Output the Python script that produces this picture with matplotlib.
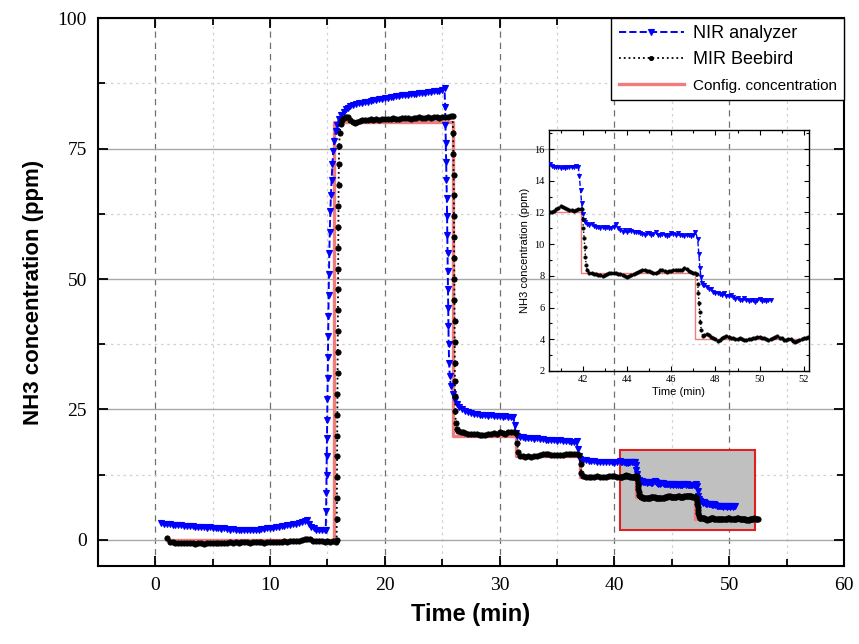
import matplotlib
matplotlib.use("Agg")
import matplotlib.pyplot as plt
from matplotlib.patches import Rectangle
from matplotlib.ticker import MultipleLocator

# NIR analyzer (blue) - time (min) / NH3 (ppm)
nir_t = [0.5, 0.75, 1.0, 1.25, 1.5, 1.75, 2.0, 2.25, 2.5, 2.75, 3.0, 3.25, 3.5, 3.75, 4.0, 4.25, 4.5, 4.75,
         5.0, 5.25, 5.5, 5.75, 6.0, 6.25, 6.5, 6.75, 7.0, 7.25, 7.5, 7.75, 8.0, 8.25, 8.5, 8.75, 9.0, 9.25,
         9.5, 9.75, 10.0, 10.25, 10.5, 10.75, 11.0, 11.25, 11.5, 11.75, 12.0, 12.25, 12.5, 12.75, 13.0, 13.2,
         13.4, 13.6, 13.8, 14.0, 14.25, 14.5, 14.75, 14.85,
         14.88, 14.9, 14.92, 14.94, 14.96, 14.98, 15.0, 15.02, 15.04, 15.06, 15.08, 15.1, 15.13, 15.16, 15.2,
         15.25, 15.3, 15.36, 15.43, 15.5, 15.6, 15.72, 15.85, 16.0, 16.2, 16.4, 16.6, 16.8, 17.0, 17.25, 17.5,
         17.75, 18.0, 18.25, 18.5, 18.75, 19.0, 19.25, 19.5, 19.75, 20.0, 20.25, 20.5, 20.75, 21.0, 21.25, 21.5,
         21.75, 22.0, 22.25, 22.5, 22.75, 23.0, 23.25, 23.5, 23.75, 24.0, 24.25, 24.5, 24.75, 25.0, 25.2,
         25.25, 25.28, 25.31, 25.34, 25.37, 25.4, 25.42, 25.44, 25.46, 25.48, 25.5, 25.52, 25.54, 25.56, 25.6,
         25.65, 25.75, 25.9, 26.1, 26.3, 26.5, 26.75, 27.0, 27.25, 27.5, 27.75, 28.0, 28.25, 28.5, 28.75, 29.0,
         29.25, 29.5, 29.75, 30.0, 30.25, 30.5, 30.75, 31.0, 31.2, 31.3, 31.4, 31.5, 31.75, 32.0, 32.25, 32.5,
         32.75, 33.0, 33.25, 33.5, 33.75, 34.0, 34.25, 34.5, 34.75, 35.0, 35.25, 35.5, 35.75, 36.0, 36.25, 36.5,
         36.7, 36.8, 36.9, 37.0, 37.25, 37.5, 37.75, 38.0, 38.25, 38.5, 38.75, 39.0, 39.25, 39.5, 39.75, 40.0,
         40.25, 40.5, 40.6, 40.7, 40.8, 40.9, 41.0, 41.1, 41.2, 41.3, 41.4, 41.5, 41.6, 41.7, 41.8, 41.85,
         41.9, 41.95, 42.0, 42.05, 42.1, 42.2, 42.3, 42.4, 42.5, 42.6, 42.7, 42.8, 42.9, 43.0, 43.1, 43.2,
         43.3, 43.4, 43.5, 43.6, 43.7, 43.8, 43.9, 44.0, 44.1, 44.2, 44.3, 44.4, 44.5, 44.6, 44.7, 44.8,
         44.9, 45.0, 45.1, 45.2, 45.3, 45.4, 45.5, 45.6, 45.7, 45.8, 45.9, 46.0, 46.1, 46.2, 46.3, 46.4,
         46.5, 46.6, 46.7, 46.8, 46.9, 47.0, 47.1, 47.2, 47.25, 47.3, 47.35, 47.4, 47.45, 47.5, 47.6, 47.7,
         47.8, 47.9, 48.0, 48.1, 48.2, 48.3, 48.4, 48.5, 48.6, 48.7, 48.8, 48.9, 49.0, 49.1, 49.2, 49.3,
         49.4, 49.5, 49.6, 49.7, 49.8, 49.9, 50.0, 50.1, 50.2, 50.3, 50.4, 50.5]
nir_v = [3.2, 3.1, 3.1, 3.0, 2.9, 2.9, 2.8, 2.8, 2.7, 2.6, 2.7, 2.6, 2.5, 2.5, 2.4, 2.4, 2.3, 2.4,
         2.3, 2.2, 2.2, 2.1, 2.2, 2.1, 2.0, 2.1, 2.0, 1.9, 2.0, 1.9, 2.0, 2.0, 1.9, 2.0, 2.0, 2.1,
         2.1, 2.2, 2.3, 2.3, 2.4, 2.5, 2.6, 2.7, 2.8, 2.9, 3.0, 3.1, 3.3, 3.5, 3.7, 3.8,
         3.0, 2.5, 2.2, 2.0, 1.9, 2.0, 1.9, 2.0,
         5.5, 9.0, 12.5, 16.0, 19.5, 23.0, 27.0, 31.0, 35.0, 39.0, 43.0, 47.0, 51.0, 55.0, 59.0,
         63.0, 66.0, 69.0, 72.0, 74.5, 76.5, 78.3, 79.6, 80.6, 81.4, 82.0, 82.5, 82.8, 83.1, 83.3, 83.5,
         83.7, 83.8, 83.9, 84.0, 84.1, 84.2, 84.3, 84.4, 84.5, 84.6, 84.7, 84.8, 84.9, 85.0, 85.0, 85.2,
         85.2, 85.3, 85.4, 85.5, 85.5, 85.6, 85.7, 85.7, 85.9, 85.9, 86.0, 86.1, 86.1, 86.2, 86.5,
         83.0, 79.5, 76.0, 72.5, 69.0, 65.5, 62.0, 58.5, 55.0, 51.5, 48.0, 44.5, 41.0, 37.5, 34.0,
         31.5, 29.5, 28.0, 26.8, 26.0, 25.4, 25.0, 24.7, 24.5, 24.3, 24.2, 24.1, 24.0, 24.0, 23.9, 23.8,
         23.9, 23.7, 23.8, 23.7, 23.6, 23.7, 23.6, 23.5, 23.6, 22.0, 20.5, 20.0, 19.8, 19.7, 19.6, 19.6,
         19.5, 19.4, 19.5, 19.3, 19.3, 19.2, 19.2, 19.1, 19.1, 19.0, 19.1, 18.9, 18.9, 18.9, 18.8, 18.8,
         18.9, 17.5, 16.0, 15.6, 15.4, 15.3, 15.2, 15.1, 15.1, 15.0, 15.0, 14.9, 15.0, 14.9, 14.9, 14.8,
         14.9, 15.05, 14.95, 14.9, 14.85, 14.85, 14.8, 14.85, 14.8, 14.85, 14.9, 14.85, 14.9, 14.95, 14.85, 14.3,
         13.4, 12.6, 11.9, 11.5, 11.4, 11.3, 11.2, 11.25, 11.15, 11.1, 11.1, 11.0, 11.1, 11.05, 11.1, 11.0,
         11.0, 11.1, 11.25, 11.05, 10.9, 10.8, 10.9, 10.8, 10.9, 10.85, 10.8, 10.75, 10.8, 10.7, 10.65, 10.6,
         10.7, 10.7, 10.6, 10.65, 10.75, 10.6, 10.55, 10.65, 10.6, 10.5, 10.6, 10.7, 10.65, 10.6, 10.7, 10.55,
         10.6, 10.5, 10.6, 10.55, 10.5, 10.6, 10.8, 10.3, 9.4, 8.5, 7.9, 7.55, 7.45, 7.4, 7.3, 7.15,
         7.2, 7.0, 6.95, 6.9, 6.85, 6.8, 6.9, 6.75, 6.7, 6.8, 6.65, 6.55, 6.6, 6.5, 6.45, 6.6,
         6.5, 6.4, 6.5, 6.45, 6.35, 6.5, 6.55, 6.4, 6.45, 6.4, 6.5, 6.45]

# MIR Beebird (black)
mir_t = [1.0, 1.25, 1.5, 1.75, 2.0, 2.25, 2.5, 2.75, 3.0, 3.25, 3.5, 3.75, 4.0, 4.25, 4.5, 4.75, 5.0, 5.25,
         5.5, 5.75, 6.0, 6.25, 6.5, 6.75, 7.0, 7.25, 7.5, 7.75, 8.0, 8.25, 8.5, 8.75, 9.0, 9.25, 9.5, 9.75,
         10.0, 10.25, 10.5, 10.75, 11.0, 11.25, 11.5, 11.75, 12.0, 12.25, 12.5, 12.75, 13.0, 13.25, 13.5,
         13.75, 14.0, 14.25, 14.5, 14.75, 15.0, 15.25, 15.5, 15.7,
         15.8, 15.81, 15.82, 15.83, 15.84, 15.85, 15.86, 15.87, 15.88, 15.89, 15.9, 15.91, 15.92, 15.93,
         15.94, 15.95, 15.96, 15.97, 15.99, 16.02, 16.07, 16.15, 16.25, 16.4, 16.6, 16.8, 17.0, 17.2, 17.4,
         17.6, 17.8, 18.0, 18.25, 18.5, 18.75, 19.0, 19.25, 19.5, 19.75, 20.0, 20.25, 20.5, 20.75, 21.0,
         21.25, 21.5, 21.75, 22.0, 22.25, 22.5, 22.75, 23.0, 23.25, 23.5, 23.75, 24.0, 24.25, 24.5, 24.75,
         25.0, 25.25, 25.5, 25.75, 25.9,
         25.95, 25.97, 25.99, 26.01, 26.02, 26.03, 26.04, 26.05, 26.06, 26.07, 26.08, 26.09, 26.1, 26.12,
         26.14, 26.17, 26.25, 26.4, 26.6, 26.8, 27.0, 27.25, 27.5, 27.75, 28.0, 28.25, 28.5, 28.75, 29.0,
         29.25, 29.5, 29.75, 30.0, 30.25, 30.5, 30.75, 31.0, 31.25, 31.45, 31.55, 31.62, 31.75, 32.0, 32.25,
         32.5, 32.75, 33.0, 33.25, 33.5, 33.75, 34.0, 34.25, 34.5, 34.75, 35.0, 35.25, 35.5, 35.75, 36.0,
         36.25, 36.5, 36.75, 36.95, 37.05, 37.12, 37.25, 37.5, 37.75, 38.0, 38.25, 38.5, 38.75, 39.0, 39.25,
         39.5, 39.75, 40.0, 40.25, 40.5, 40.6, 40.7, 40.8, 40.9, 41.0, 41.1, 41.2, 41.3, 41.4, 41.5, 41.6,
         41.7, 41.8, 41.9, 41.95, 42.0, 42.03, 42.06, 42.09, 42.12, 42.15, 42.2, 42.3, 42.4, 42.5, 42.6, 42.7,
         42.8, 42.9, 43.0, 43.1, 43.2, 43.3, 43.4, 43.5, 43.6, 43.7, 43.8, 43.9, 44.0, 44.1, 44.2, 44.3,
         44.4, 44.5, 44.6, 44.7, 44.8, 44.9, 45.0, 45.1, 45.2, 45.3, 45.4, 45.5, 45.6, 45.7, 45.8, 45.9,
         46.0, 46.1, 46.2, 46.3, 46.4, 46.5, 46.6, 46.7, 46.8, 46.9, 47.0, 47.1, 47.15, 47.2, 47.23, 47.26,
         47.29, 47.32, 47.36, 47.42, 47.5, 47.6, 47.7, 47.8, 47.9, 48.0, 48.1, 48.2, 48.3, 48.4, 48.5, 48.6,
         48.7, 48.8, 48.9, 49.0, 49.1, 49.2, 49.3, 49.4, 49.5, 49.6, 49.7, 49.8, 49.9, 50.0, 50.1, 50.2,
         50.3, 50.4, 50.5, 50.6, 50.7, 50.8, 50.9, 51.0, 51.1, 51.2, 51.3, 51.4, 51.5, 51.6, 51.7, 51.8,
         51.9, 52.0, 52.1, 52.2, 52.3, 52.4, 52.5]
mir_v = [0.3, -0.3, -0.4, -0.5, -0.5, -0.6, -0.5, -0.6, -0.5, -0.6, -0.7, -0.6, -0.6, -0.7, -0.6, -0.5, -0.6, -0.6,
         -0.5, -0.6, -0.5, -0.5, -0.4, -0.5, -0.4, -0.5, -0.4, -0.3, -0.4, -0.5, -0.4, -0.4, -0.3, -0.4, -0.5, -0.4,
         -0.4, -0.3, -0.3, -0.4, -0.3, -0.2, -0.3, -0.2, -0.2, -0.1, -0.1, 0.0, 0.1, 0.2, 0.1,
         -0.1, -0.2, -0.1, -0.2, -0.3, -0.2, -0.3, -0.2, -0.3,
         0.0, 4.0, 8.0, 12.0, 16.0, 20.0, 24.0, 28.0, 32.0, 36.0, 40.0, 44.0, 48.0, 52.0,
         56.0, 60.0, 64.0, 68.0, 72.0, 75.5, 78.0, 79.7, 80.5, 80.9, 81.1, 81.0, 80.5, 80.1, 79.9,
         80.1, 80.3, 80.4, 80.5, 80.4, 80.6, 80.5, 80.6, 80.5, 80.7, 80.6, 80.7, 80.6, 80.8, 80.7,
         80.6, 80.8, 80.9, 80.8, 80.7, 80.9, 80.8, 81.0, 80.9, 80.8, 81.0, 80.9, 81.0, 81.1, 80.9,
         81.0, 81.1, 81.0, 81.3, 81.2,
         78.0, 74.0, 70.0, 66.0, 62.0, 58.0, 54.0, 50.0, 46.0, 42.0, 38.0, 34.0, 30.5, 27.5,
         24.8, 22.4, 21.2, 20.9, 20.7, 20.6, 20.5, 20.4, 20.4, 20.3, 20.4, 20.2, 20.1, 20.2, 20.3,
         20.4, 20.5, 20.4, 20.6, 20.5, 20.4, 20.6, 20.7, 20.6, 20.5, 18.5, 16.8, 16.1, 16.0, 15.9,
         16.0, 15.9, 16.0, 16.1, 16.3, 16.4, 16.5, 16.4, 16.3, 16.2, 16.3, 16.2, 16.3, 16.4, 16.4,
         16.5, 16.4, 16.5, 16.3, 14.5, 12.8, 12.2, 12.1, 12.1, 12.0, 12.1, 12.2, 12.1, 12.0, 12.1,
         12.2, 12.3, 12.2, 12.1, 12.0, 12.05, 12.1, 12.2, 12.3, 12.4, 12.35, 12.3, 12.2, 12.15, 12.15, 12.1,
         12.15, 12.2, 12.25, 12.2, 11.6, 11.0, 10.4, 9.8, 9.2, 8.7, 8.35, 8.2, 8.15, 8.1, 8.1, 8.05,
         8.05, 8.0, 8.05, 8.1, 8.15, 8.15, 8.2, 8.15, 8.1, 8.1, 8.05, 8.0, 7.95, 8.0, 8.05, 8.1,
         8.2, 8.25, 8.3, 8.35, 8.35, 8.3, 8.3, 8.25, 8.2, 8.2, 8.25, 8.35, 8.35, 8.3, 8.25, 8.3,
         8.3, 8.35, 8.4, 8.4, 8.35, 8.4, 8.5, 8.45, 8.3, 8.25, 8.2, 8.15, 8.1, 7.5, 6.9, 6.3,
         5.7, 5.1, 4.6, 4.2, 4.25, 4.3, 4.25, 4.15, 4.05, 4.0, 3.9, 3.95, 4.05, 4.15, 4.2, 4.15,
         4.1, 4.05, 4.0, 4.0, 4.05, 4.0, 3.95, 3.95, 4.0, 4.0, 4.05, 4.1, 4.15, 4.15, 4.1, 4.05,
         4.0, 3.95, 4.0, 4.05, 4.15, 4.2, 4.1, 4.05, 3.95, 3.95, 4.0, 4.0, 3.9, 3.85, 3.9, 3.95,
         4.0, 4.05, 4.1, 4.15, 4.1, 4.1, 4.1]

# configured concentration (step changes)
cfg_t = [1.0, 15.55, 25.9, 31.45, 37.0, 41.9, 47.06, 52.5]
cfg_v = [0, 80, 20, 16, 12, 8.2, 4, 4]

serif = "Liberation Serif"
sans = "Liberation Sans"
blue = "#0000ff"
pink = "#f07c7c"

fig = plt.figure(figsize=(8.59, 6.44), dpi=100)
ax = fig.add_axes([0.114, 0.121, 0.8685, 0.851])

ax.plot(cfg_t, cfg_v, drawstyle="steps-post", color=pink, lw=2.4, zorder=3,
        label="Config. concentration")
ax.plot(nir_t, nir_v, color=blue, ls="--", lw=1.4, marker="v", ms=5, mew=0.8, zorder=4,
        label="NIR analyzer")
ax.plot(mir_t, mir_v, color="black", ls=":", lw=1.3, marker="o", ms=3.8, mew=0.6, zorder=5,
        label="MIR Beebird")
ax.add_patch(Rectangle((40.47, 2.0), 11.76, 15.2, facecolor="#c0c0c0", edgecolor="#e02020",
                       lw=1.5, zorder=2))

ax.set_xlim(-5, 60)
ax.set_ylim(-5, 100)
ax.xaxis.set_major_locator(MultipleLocator(10))
ax.xaxis.set_minor_locator(MultipleLocator(5))
ax.yaxis.set_major_locator(MultipleLocator(25))
ax.yaxis.set_minor_locator(MultipleLocator(12.5))
ax.tick_params(which="both", direction="in", top=True, right=True, width=1.3)
ax.tick_params(which="major", length=7, labelsize=14, pad=8)
ax.tick_params(which="minor", length=5)
for lab in ax.get_xticklabels() + ax.get_yticklabels():
    lab.set_fontfamily(serif)
for s in ax.spines.values():
    s.set_linewidth(1.5)

ax.grid(True, axis="y", which="major", color="#a8a8a8", lw=1.0, ls="-")
ax.grid(True, axis="y", which="minor", color="#d0d0d0", lw=0.9, ls=(0, (2, 3)))
ax.grid(True, axis="x", which="major", color="#707070", lw=0.9, ls=(0, (5, 4)))
ax.grid(True, axis="x", which="minor", color="#d0d0d0", lw=0.9, ls=(0, (2, 3)))
ax.set_axisbelow(True)

ax.set_xlabel("Time (min)", fontsize=17, fontweight="bold", family=sans, labelpad=6)
ax.set_ylabel("NH3 concentration (ppm)", fontsize=16, fontweight="bold", family=sans, labelpad=10)

h, l = ax.get_legend_handles_labels()
leg = ax.legend([h[1], h[2], h[0]], [l[1], l[2], l[0]], loc="upper right", borderaxespad=0,
                fancybox=False, framealpha=1, edgecolor="black", handlelength=3.6,
                handletextpad=0.5, prop={"family": sans, "size": 13}, labelspacing=0.5,
                markerscale=0.8)
leg.get_frame().set_linewidth(1.0)
leg.get_texts()[2].set_fontsize(11)

# inset zoom on the last two steps
ins = fig.add_axes([0.639, 0.424, 0.3027, 0.374])
ins.patch.set_alpha(0)
ins.plot(cfg_t, cfg_v, drawstyle="steps-post", color=pink, lw=1.0, zorder=3)
ins.plot(nir_t, nir_v, color=blue, ls="--", lw=1.0, marker="v", ms=3, mew=0.6, zorder=4)
ins.plot(mir_t, mir_v, color="black", ls=":", lw=1.0, marker="o", ms=2.4, mew=0.5, zorder=5)
ins.set_xlim(40.47, 52.23)
ins.set_ylim(2, 17.2)
ins.xaxis.set_major_locator(MultipleLocator(2))
ins.xaxis.set_minor_locator(MultipleLocator(1))
ins.yaxis.set_major_locator(MultipleLocator(2))
ins.yaxis.set_minor_locator(MultipleLocator(1))
ins.tick_params(which="both", direction="in", top=True, right=True, width=0.8, labelsize=7.5, pad=3)
ins.tick_params(which="major", length=3.5)
ins.tick_params(which="minor", length=2)
for lab in ins.get_xticklabels() + ins.get_yticklabels():
    lab.set_fontfamily(serif)
for s in ins.spines.values():
    s.set_linewidth(1.0)
ins.set_xlabel("Time (min)", fontsize=8, family=sans, labelpad=2)
ins.set_ylabel("NH3 concentration (ppm)", fontsize=8, family=sans, labelpad=3)

fig.savefig("out.png", dpi=100)
